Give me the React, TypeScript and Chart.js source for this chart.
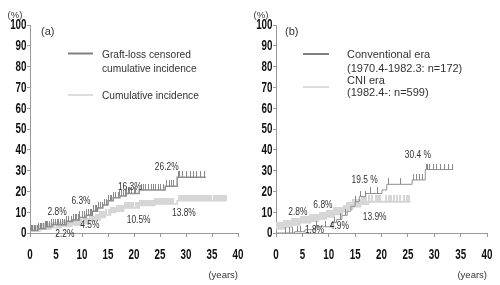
import React, { useEffect, useRef } from "react";
import { Chart, registerables } from "chart.js";

Chart.register(...registerables);

// ---------- DATA ----------
// Panel (a)
const aGraftTimes = [0, 1.5, 3, 4.2, 7, 8.2, 9.5, 10.8, 12, 13, 14, 15, 16, 17.3, 18.5, 21, 26, 28.3, 33.8];
const aGraftValues = [1.2, 2, 3, 4, 5.5, 6.3, 7.5, 8.5, 10.5, 12, 13.5, 15.5, 17, 17.8, 19, 20.7, 22.5, 26.8, 26.8];
const aGraftCensor = [0.2, 0.5, 0.8, 1, 1.4, 1.7, 2, 2.2, 2.6, 3, 3.2, 3.4, 3.8, 4.2, 4.6, 4.9, 5.2, 5.4, 5.8, 6.2, 6.6, 7, 7.4, 7.9, 8.3, 8.7, 9, 9.3, 9.6, 10, 10.4, 10.8, 11.2, 11.6, 11.9, 12.2, 12.5, 12.8, 13.1, 13.5, 13.9, 14.3, 14.7, 15, 15.4, 15.7, 16, 16.5, 17, 17.3, 17.6, 18, 18.3, 18.6, 18.9, 19.2, 19.6, 20, 20.3, 21.4, 21.8, 22.3, 22.8, 23.3, 23.7, 24.2, 24.7, 25.1, 25.6, 26.3, 26.9, 27.3, 27.6, 28.5, 28.8, 29.4, 30, 30.9, 31.5, 32.1, 32.7, 33.6];

const aCumTimes = [0, 2, 4, 6, 8, 10, 11.5, 12.5, 13.5, 14.5, 15.5, 16.5, 18, 21, 24, 28.3, 37.8];
const aCumValues = [1, 1.8, 2.5, 3.2, 3.8, 4.5, 5.5, 6.3, 7.5, 8.6, 9.8, 10.5, 12, 13.2, 14, 15.5, 15.5];
const aCumCensor = [0.3, 0.7, 1.1, 1.5, 1.9, 2.3, 2.7, 3.1, 3.5, 3.9, 4.3, 4.7, 5.1, 5.5, 5.9, 6.3, 6.7, 7.1, 7.5, 7.9, 8.3, 8.7, 9.1, 9.5, 9.9, 10.3, 10.7, 11.1, 11.5, 11.9, 12.3, 12.7, 13.1, 13.5, 13.9, 14.3, 14.7, 15.1, 15.5, 15.9, 16.3, 16.7, 17.1, 17.5, 17.9, 18.3, 18.7, 19.1, 19.5, 19.9, 20.3, 20.7, 21.1, 21.5, 21.9, 22.3, 22.6, 23, 23.3, 23.7, 24, 24.4, 24.7, 25, 25.4, 25.8, 26.1, 26.5, 26.8, 27.2, 27.5, 28.6, 29, 29.3, 29.7, 30, 30.4, 30.7, 31.1, 31.4, 31.8, 32.1, 32.5, 32.8, 33.2, 33.5, 33.9, 34.2, 34.6, 34.9, 35.3, 35.6, 36, 36.3, 36.7, 37, 37.3, 37.6];

const aLabels = ["2.8%", "2.2%", "6.3%", "4.5%", "16.3%", "10.5%", "26.2%", "13.8%"];
const aLabelX = [5.2, 6.7, 9.8, 11.5, 19.2, 20.9, 26.3, 29.6];
const aLabelY = [10.1, -0.5, 15.4, 3.8, 22, 6.2, 31.7, 9.7];

// Panel (b)
const bConvTimes = [0, 3.5, 5.5, 7.5, 10.5, 11.5, 12.5, 13.5, 14.2, 15, 15.8, 17, 20.1, 21, 25.8, 28.3, 33.6];
const bConvValues = [0, 0.6, 1.6, 3, 5, 6.5, 8.5, 10.5, 12.8, 15, 17.5, 19, 20.7, 23.4, 25.5, 30.5, 30.5];
const bConvCensor = [1.8, 2.5, 3.2, 4, 4.6, 7.6, 9.3, 11, 12.2, 13.1, 15.1, 16, 16.9, 17.9, 19.2, 21.4, 23.6, 26.1, 26.7, 27.2, 27.7, 28.5, 28.8, 29.1, 29.9, 30.5, 31.1, 31.9, 32.7, 33.5];

const bCniTimes = [0, 1.5, 3, 4.5, 6.5, 8, 9.5, 11, 12.5, 13.5, 14.5, 16, 17.5, 25.5];
const bCniValues = [2, 3, 4, 5, 5.8, 6.8, 7.8, 9, 10.2, 11.5, 12.8, 14, 15, 15];
const bCniCensor = [0.2, 0.55, 0.9, 1.25, 1.6, 1.95, 2.3, 2.65, 3, 3.35, 3.7, 4.05, 4.4, 4.75, 5.1, 5.45, 5.8, 6.15, 6.5, 6.85, 7.2, 7.55, 7.9, 8.25, 8.6, 8.95, 9.3, 9.65, 10, 10.35, 10.7, 11.05, 11.4, 11.75, 12.1, 12.45, 12.8, 13.15, 13.5, 13.85, 14.2, 14.55, 14.9, 15.25, 15.6, 15.95, 16.3, 16.65, 17, 17.6, 18.2, 18.9, 19.3, 19.8, 20.8, 21.4, 21.8, 22.3, 23, 23.6, 24.2, 24.8, 25.3];

const bLabels = ["2.8%", "1.8%", "6.8%", "4.9%", "19.5 %", "13.9%", "30.4 %"];
const bLabelX = [4.15, 7.3, 8.9, 12, 16.8, 18.7, 26.9];
const bLabelY = [9.8, 1.4, 13.5, 3.4, 25.5, 7.5, 37.5];

const xTicksMax = 40;
const yTicksMax = 100;

// ---------- STYLE ----------
const SANS = "'Liberation Sans', Arial, sans-serif";
const DARK = "#8f8f8f";
const DARK_TICK = "#8a8a8a";
const LIGHT = "#d4d4d4";
const LIGHT_TICK = "#d6d6d6";
const AXIS = "#9a9a9a";

function stepAt(times: number[], vals: number[], t: number) {
  let v = vals[0];
  for (let i = 0; i < times.length; i++) if (times[i] <= t) v = vals[i];
  return v;
}

function makeTick(color: string, h: number, w: number) {
  const c = document.createElement("canvas");
  c.width = w;
  c.height = h * 2;
  const ctx = c.getContext("2d")!;
  ctx.fillStyle = color;
  ctx.fillRect(0, 0, w, h);
  return c;
}

function drawText(ctx: CanvasRenderingContext2D, text: string, x: number, y: number, size: number, align: CanvasTextAlign, sx: number, color: string, weight = "normal") {
  ctx.save();
  ctx.font = `${weight} ${size}px ${SANS}`;
  ctx.textAlign = align;
  ctx.textBaseline = "middle";
  ctx.fillStyle = color;
  ctx.translate(x, y);
  ctx.scale(sx, 1);
  ctx.fillText(text, 0, 0);
  ctx.restore();
}

type LegendItem = { color: string; y: number };
type TextItem = { text: string; x: number; y: number; size: number; align?: CanvasTextAlign };

interface PanelCfg {
  curves: { times: number[]; values: number[]; censor: number[]; color: string; tick: string; width: number; tickH: number; tickW: number }[];
  labels: string[];
  labelX: number[];
  labelY: number[];
  left: number;
  rightPad: number;
  legendLines: LegendItem[];
  legendX0: number;
  legendX1: number;
  texts: TextItem[];
}

function Panel({ cfg }: { cfg: PanelCfg }) {
  const ref = useRef<HTMLCanvasElement>(null);
  useEffect(() => {
    if (!ref.current) return;
    const datasets: any[] = [];
    cfg.curves.forEach((c, idx) => {
      datasets.push({
        type: "line",
        data: c.times.map((t, i) => ({ x: t, y: c.values[i] })),
        borderColor: c.color,
        borderWidth: c.width,
        stepped: "before",
        pointRadius: 0,
        fill: false,
        order: idx * 2 + 1,
      });
      datasets.push({
        type: "scatter",
        data: c.censor.map((t) => ({ x: t, y: stepAt(c.times, c.values, t) })),
        pointStyle: makeTick(c.tick, c.tickH, c.tickW),
        pointRadius: 3,
        showLine: false,
        order: idx * 2,
      });
    });

    const overlay = {
      id: "overlay",
      afterDraw(chart: any) {
        const ctx = chart.ctx as CanvasRenderingContext2D;
        const xs = chart.scales.x;
        const ys = chart.scales.y;
        ys.ticks.forEach((t: any) => {
          drawText(ctx, String(t.value), cfg.left - 3.5, ys.getPixelForValue(t.value) + 0.5, 14, "right", 0.7, "#111", "bold");
        });
        xs.ticks.forEach((t: any) => {
          drawText(ctx, String(t.value), xs.getPixelForValue(t.value), 255, 14, "center", 0.7, "#111", "bold");
        });
        cfg.labels.forEach((l, i) => {
          drawText(ctx, l, xs.getPixelForValue(cfg.labelX[i]), ys.getPixelForValue(cfg.labelY[i]), 10, "center", 0.84, "#333");
        });
        ctx.save();
        cfg.legendLines.forEach((li) => {
          ctx.strokeStyle = li.color;
          ctx.lineWidth = 2;
          ctx.beginPath();
          ctx.moveTo(cfg.legendX0, li.y);
          ctx.lineTo(cfg.legendX1, li.y);
          ctx.stroke();
        });
        ctx.restore();
        cfg.texts.forEach((t) => {
          drawText(ctx, t.text, t.x, t.y, t.size, t.align || "left", 1, "#333");
        });
      },
    };

    const chart = new Chart(ref.current, {
      type: "line",
      data: { datasets },
      options: {
        animation: false,
        responsive: false,
        devicePixelRatio: 1,
        layout: { padding: { top: 25, right: cfg.rightPad, left: 0, bottom: 0 } },
        plugins: { legend: { display: false }, tooltip: { enabled: false } },
        scales: {
          x: {
            type: "linear",
            min: 0,
            max: xTicksMax,
            ticks: { stepSize: 5, display: false, autoSkip: false },
            grid: { drawOnChartArea: false, tickLength: 4, color: AXIS },
            border: { color: AXIS },
            title: { display: true, text: "(years)", align: "end", font: { family: SANS, size: 9.5 }, color: "#333", padding: { top: 0, bottom: 4 } },
            afterFit: (s: any) => { s.height = 52; },
          },
          y: {
            type: "linear",
            min: 0,
            max: yTicksMax,
            ticks: { stepSize: 10, display: false },
            grid: { drawOnChartArea: false, tickLength: 3, color: AXIS },
            border: { color: AXIS },
            afterFit: (s: any) => { s.width = cfg.left; },
          },
        },
      } as any,
      plugins: [overlay],
    });
    return () => chart.destroy();
  }, [cfg]);
  return <canvas ref={ref} width={250} height={285} style={{ display: "block" }} />;
}

const panelA: PanelCfg = {
  curves: [
    { times: aGraftTimes, values: aGraftValues, censor: aGraftCensor, color: DARK, tick: DARK_TICK, width: 1.5, tickH: 6, tickW: 1 },
    { times: aCumTimes, values: aCumValues, censor: aCumCensor, color: LIGHT, tick: LIGHT_TICK, width: 1.5, tickH: 6, tickW: 2 },
  ],
  labels: aLabels,
  labelX: aLabelX,
  labelY: aLabelY,
  left: 30,
  rightPad: 12,
  legendLines: [
    { color: "#808080", y: 53.5 },
    { color: "#dcdcdc", y: 95 },
  ],
  legendX0: 68,
  legendX1: 93,
  texts: [
    { text: "(%)", x: 15, y: 15, size: 9.5, align: "center" },
    { text: "(a)", x: 41, y: 32, size: 11 },
    { text: "Graft-loss censored", x: 102, y: 55, size: 10.2 },
    { text: "cumulative incidence", x: 102, y: 69, size: 10.2 },
    { text: "Cumulative incidence", x: 102, y: 96, size: 10.2 },
  ],
};

const panelB: PanelCfg = {
  curves: [
    { times: bConvTimes, values: bConvValues, censor: bConvCensor, color: DARK, tick: DARK_TICK, width: 1, tickH: 6, tickW: 1 },
    { times: bCniTimes, values: bCniValues, censor: bCniCensor, color: LIGHT, tick: LIGHT_TICK, width: 2, tickH: 7, tickW: 2 },
  ],
  labels: bLabels,
  labelX: bLabelX,
  labelY: bLabelY,
  left: 26,
  rightPad: 13,
  legendLines: [
    { color: "#808080", y: 54 },
    { color: "#dcdcdc", y: 87 },
  ],
  legendX0: 53,
  legendX1: 79,
  texts: [
    { text: "(%)", x: 11, y: 15, size: 9.5, align: "center" },
    { text: "(b)", x: 35, y: 32, size: 11 },
    { text: "Conventional era", x: 97, y: 55, size: 11 },
    { text: "(1970.4-1982.3: n=172)", x: 97, y: 69, size: 11 },
    { text: "CNI era", x: 97, y: 81, size: 11 },
    { text: "(1982.4-: n=599)", x: 97, y: 93, size: 11 },
  ],
};

export default function App() {
  return (
    <div style={{ position: "fixed", left: 0, top: 0, width: 500, height: 285, display: "flex", background: "#fff" }}>
      <Panel cfg={panelA} />
      <Panel cfg={panelB} />
    </div>
  );
}
